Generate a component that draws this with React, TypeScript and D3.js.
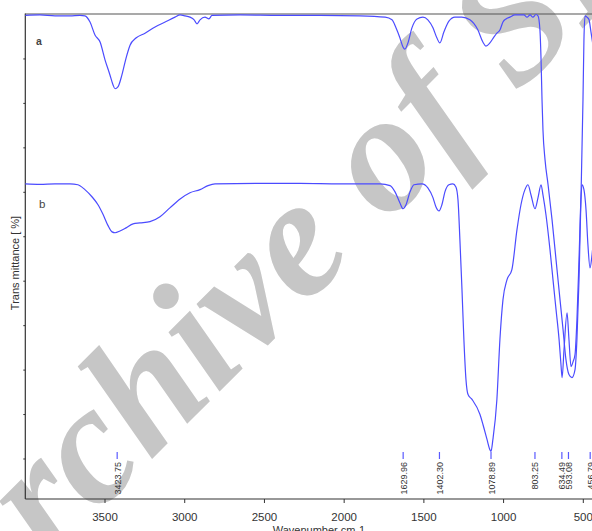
import React from "react";
import * as d3 from "d3";

// wavenumber (cm-1) / transmittance pairs
const waveA = [4000, 3908, 3814, 3720, 3657, 3626, 3594, 3563, 3531, 3500, 3469, 3450, 3437, 3419, 3394, 3368, 3343, 3306, 3249, 3186, 3123, 3061, 3029, 2998, 2967, 2941, 2923, 2904, 2873, 2848, 2829, 2653, 2402, 2151, 1900, 1743, 1700, 1675, 1650, 1631, 1619, 1600, 1575, 1543, 1506, 1475, 1443, 1418, 1400, 1374, 1343, 1305, 1262, 1211, 1161, 1130, 1111, 1086, 1061, 1042, 1023, 1004, 985, 960, 929, 897, 872, 853, 834, 816, 797, 784, 772, 765, 759, 753, 740, 721, 696, 671, 646, 627, 609, 590, 571, 552, 540, 527, 515, 502, 496, 489, 477, 464, 452, 439, 420];
const transA = [99.8, 99.9, 99.7, 99.7, 99.8, 99.7, 98.3, 95.4, 93.8, 89.8, 86.4, 84.2, 83.3, 83.7, 86.4, 90.2, 93.1, 94.7, 95.8, 97.2, 98.3, 99.4, 99.9, 99.7, 99.4, 98.8, 97.9, 98.8, 99.4, 99.0, 99.8, 99.9, 99.8, 99.8, 99.7, 99.4, 98.8, 97.0, 94.7, 92.7, 92.2, 93.6, 97.0, 99.0, 99.4, 98.8, 97.0, 94.7, 93.6, 96.1, 98.5, 99.4, 99.4, 98.8, 96.5, 93.8, 92.9, 93.6, 94.9, 95.8, 96.5, 98.3, 99.0, 99.4, 99.9, 99.9, 99.9, 99.4, 99.9, 99.4, 100, 99.7, 96.5, 89.8, 80.8, 74.0, 67.3, 61.7, 53.8, 44.8, 35.8, 29.1, 22.4, 19.0, 18.3, 20.1, 26.9, 40.3, 58.3, 80.8, 94.3, 99.7, 99.4, 98.8, 96.1, 93.1, 90.9];

const waveB = [4000, 3908, 3814, 3720, 3670, 3626, 3582, 3544, 3512, 3481, 3456, 3437, 3406, 3368, 3324, 3281, 3218, 3155, 3093, 3029, 2967, 2904, 2854, 2810, 2528, 2277, 2026, 1775, 1712, 1681, 1650, 1631, 1612, 1587, 1562, 1512, 1475, 1443, 1424, 1405, 1387, 1368, 1343, 1318, 1299, 1286, 1274, 1261, 1249, 1236, 1223, 1198, 1148, 1129, 1104, 1086, 1079, 1067, 1042, 1023, 1004, 979, 948, 916, 891, 866, 847, 828, 803, 784, 765, 753, 734, 709, 690, 671, 652, 640, 633, 621, 602, 590, 577, 564, 552, 540, 527, 515, 508, 496, 483, 471, 458, 445, 427];
const transB = [61.9, 61.8, 61.9, 61.9, 61.7, 60.6, 59.0, 57.2, 55.0, 52.5, 51.1, 50.9, 51.3, 52.0, 52.9, 53.1, 53.4, 54.5, 56.5, 58.5, 59.9, 60.6, 61.5, 61.9, 62.0, 62.0, 61.9, 61.9, 61.5, 60.1, 57.6, 56.3, 57.2, 60.1, 61.7, 61.9, 61.0, 58.8, 56.7, 55.8, 57.2, 60.1, 61.7, 61.9, 61.2, 58.3, 49.3, 38.1, 26.9, 17.9, 14.5, 13.4, 10.0, 7.7, 4.4, 2.1, 1.7, 4.4, 13.4, 26.9, 35.8, 40.3, 42.6, 51.6, 57.2, 60.6, 61.7, 59.4, 56.3, 58.8, 61.7, 59.4, 54.9, 47.1, 40.3, 33.6, 26.9, 21.2, 18.3, 24.6, 32.9, 26.9, 20.8, 21.9, 23.5, 31.3, 44.8, 58.3, 61.7, 60.6, 56.1, 48.2, 43.0, 46.0, 53.8];

const xTicks = [3500, 3000, 2500, 2000, 1500, 1000, 500];
const yTicks = [0, 10, 20, 30, 40, 50, 60, 70, 80, 90];
const peaks = [3423.75, 1629.96, 1402.3, 1078.89, 803.25, 634.49, 593.08, 456.79];

const W = 592;
const H = 531;
const left = 25.3;
const top = 14.5;
const bottom = 499;

export default function App() {
  const x = d3.scaleLinear().domain([4000, 400]).range([left, left + 3600 * 0.15943]);
  const y = d3.scaleLinear().domain([-9, 100]).range([bottom, top]);

  const line = d3
    .line<[number, number]>()
    .x((d) => x(d[0]))
    .y((d) => y(d[1]))
    .curve(d3.curveMonotoneX);

  const ptsA = waveA.map((w, i) => [w, transA[i]] as [number, number]);
  const ptsB = waveB.map((w, i) => [w, transB[i]] as [number, number]);

  const font = "'Liberation Sans', Arial, sans-serif";

  return (
    <svg
      width={W}
      height={H}
      style={{ position: "absolute", left: 0, top: 0, background: "#fff" }}
    >
      {/* watermark */}
      <text
        transform="translate(487,124) rotate(-45)"
        x={-732}
        fontFamily="'Liberation Serif', 'Times New Roman', serif"
        fontWeight="bold"
        fontStyle="italic"
        fontSize={170}
        fill="#c6c6c6"
      >
        Archive of SID
      </text>

      {/* frame */}
      <line x1={left} x2={W} y1={top - 0.5} y2={top - 0.5} stroke="#555" strokeWidth={1.2} />
      <line x1={left} x2={left} y1={top - 1} y2={bottom} stroke="#333" strokeWidth={1.2} />
      <line x1={left} x2={W} y1={bottom} y2={bottom} stroke="#333" strokeWidth={1.2} />

      {yTicks.map((t) => (
        <line key={t} x1={left - 2} x2={left} y1={y(t)} y2={y(t)} stroke="#333" />
      ))}

      {xTicks.map((t) => (
        <g key={t} transform={`translate(${x(t)},0)`}>
          <line y1={bottom} y2={bottom + 4} stroke="#333" />
          <text
            y={521}
            textAnchor="middle"
            fontFamily={font}
            fontSize={11.5}
            fill="#333"
          >
            {t}
          </text>
        </g>
      ))}

      <text
        x={319}
        y={534}
        textAnchor="middle"
        fontFamily={font}
        fontSize={11}
        fill="#333"
      >
        Wavenumber cm-1
      </text>
      <text
        transform="translate(19,263) rotate(-90)"
        textAnchor="middle"
        fontFamily={font}
        fontSize={11}
        fill="#333"
      >
        Trans mittance [ %]
      </text>

      <path d={line(ptsA) || ""} fill="none" stroke="#4b4bff" strokeWidth={1.2} />
      <path d={line(ptsB) || ""} fill="none" stroke="#4b4bff" strokeWidth={1.2} />

      <text x={36} y={45} fontFamily={font} fontSize={10.5} fontWeight="bold" fill="#444">
        a
      </text>
      <text x={39} y={208} fontFamily={font} fontSize={11.5} fill="#444">
        b
      </text>

      {peaks.map((p) => (
        <g key={p} transform={`translate(${x(p)},0)`}>
          <line y1={452} y2={459} stroke="#5a5aff" strokeWidth={1.2} />
          <text
            transform="translate(3.5,462) rotate(-90)"
            textAnchor="end"
            fontFamily={font}
            fontSize={9}
            fill="#333"
          >
            {p.toFixed(2)}
          </text>
        </g>
      ))}
    </svg>
  );
}
